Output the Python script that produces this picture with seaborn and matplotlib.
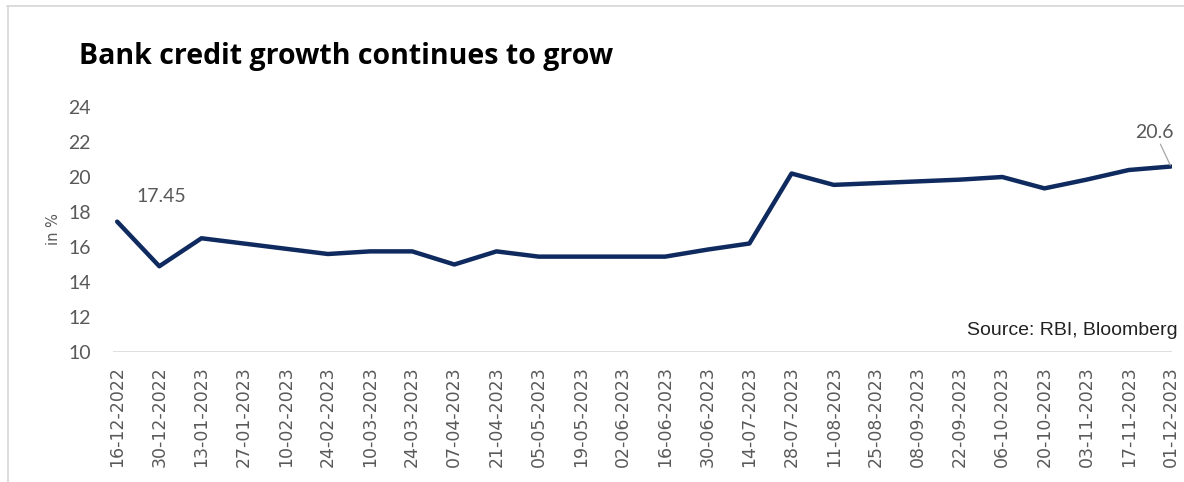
import matplotlib
matplotlib.use("Agg")
import matplotlib.pyplot as plt
import seaborn as sns
import pandas as pd
from matplotlib.lines import Line2D

# Fortnightly reporting dates
dates = [
    "16-12-2022", "30-12-2022", "13-01-2023", "27-01-2023", "10-02-2023",
    "24-02-2023", "10-03-2023", "24-03-2023", "07-04-2023", "21-04-2023",
    "05-05-2023", "19-05-2023", "02-06-2023", "16-06-2023", "30-06-2023",
    "14-07-2023", "28-07-2023", "11-08-2023", "25-08-2023", "08-09-2023",
    "22-09-2023", "06-10-2023", "20-10-2023", "03-11-2023", "17-11-2023",
    "01-12-2023",
]
# Bank credit growth, y/y in %
growth = [
    17.45, 14.9, 16.5, 16.2, 15.9,
    15.6, 15.75, 15.75, 15.0, 15.75,
    15.45, 15.45, 15.45, 15.45, 15.85,
    16.2, 20.2, 19.55, 19.65, 19.75,
    19.85, 20.0, 19.35, 19.85, 20.4,
    20.6,
]
y_ticks = [10, 12, 14, 16, 18, 20, 22, 24]

sns.set_theme(style="white")
plt.rcParams["font.family"] = ["DejaVu Sans"]

df = pd.DataFrame({"pos": range(len(dates)), "date": dates, "growth": growth})

fig = plt.figure(figsize=(11.84, 4.82), dpi=100)
ax = fig.add_axes([0.0954, 0.2697, 0.8946, 0.5083])

navy = "#0f2a5f"
grey = "#595959"

sns.lineplot(data=df, x="pos", y="growth", ax=ax, color=navy, linewidth=3.2)

ax.set_ylim(10, 24)
ax.set_yticks(y_ticks)
ax.set_yticklabels([str(t) for t in y_ticks], fontsize=14, color=grey, family="Lato")
ax.set_xlim(-0.1, len(dates) - 1 + 0.03)
ax.set_xticks(df["pos"])
ax.set_xticklabels(dates, rotation=90, fontsize=12.5, color=grey)
ax.tick_params(axis="y", length=0, pad=16)
ax.tick_params(axis="x", length=0, pad=10)
for s in ax.spines.values():
    s.set_visible(False)
ax.axhline(10, color="#d9d9d9", linewidth=1.2, zorder=0)

ax.set_xlabel("")
ax.set_ylabel("in %", fontsize=10.5, color=grey, labelpad=5)

# Value labels on the first and last points
ax.annotate(f"{growth[0]:.2f}", xy=(0, growth[0]), xytext=(1.04, 18.9),
            ha="center", va="center", fontsize=14, color=grey, family="Lato")
ax.annotate(f"{growth[-1]:g}", xy=(len(growth) - 1, growth[-1]),
            xytext=(len(growth) - 1.38, 22.55), ha="center", va="center",
            fontsize=14, color=grey, family="Lato",
            arrowprops=dict(arrowstyle="-", color="#a6a6a6", lw=0.9,
                            shrinkA=0, shrinkB=1))

fig.text(0.9945, 0.315, "Source: RBI, Bloomberg", ha="right", va="center",
         fontsize=14, color="#222222", family="Liberation Sans")

fig.text(0.067, 0.882, "Bank credit growth continues to grow", ha="left",
         va="center", fontsize=20.5, fontweight="bold", color="black",
         family="Open Sans")

# Light frame along the top and left edges
fig.add_artist(Line2D([7 / 1184, 1.0], [1 - 5.5 / 482, 1 - 5.5 / 482],
                      transform=fig.transFigure, color="#d6d6d6", linewidth=1.2))
fig.add_artist(Line2D([7.5 / 1184, 7.5 / 1184], [0.0, 1 - 5.5 / 482],
                      transform=fig.transFigure, color="#d6d6d6", linewidth=1.2))

fig.savefig("out.png", dpi=100)
